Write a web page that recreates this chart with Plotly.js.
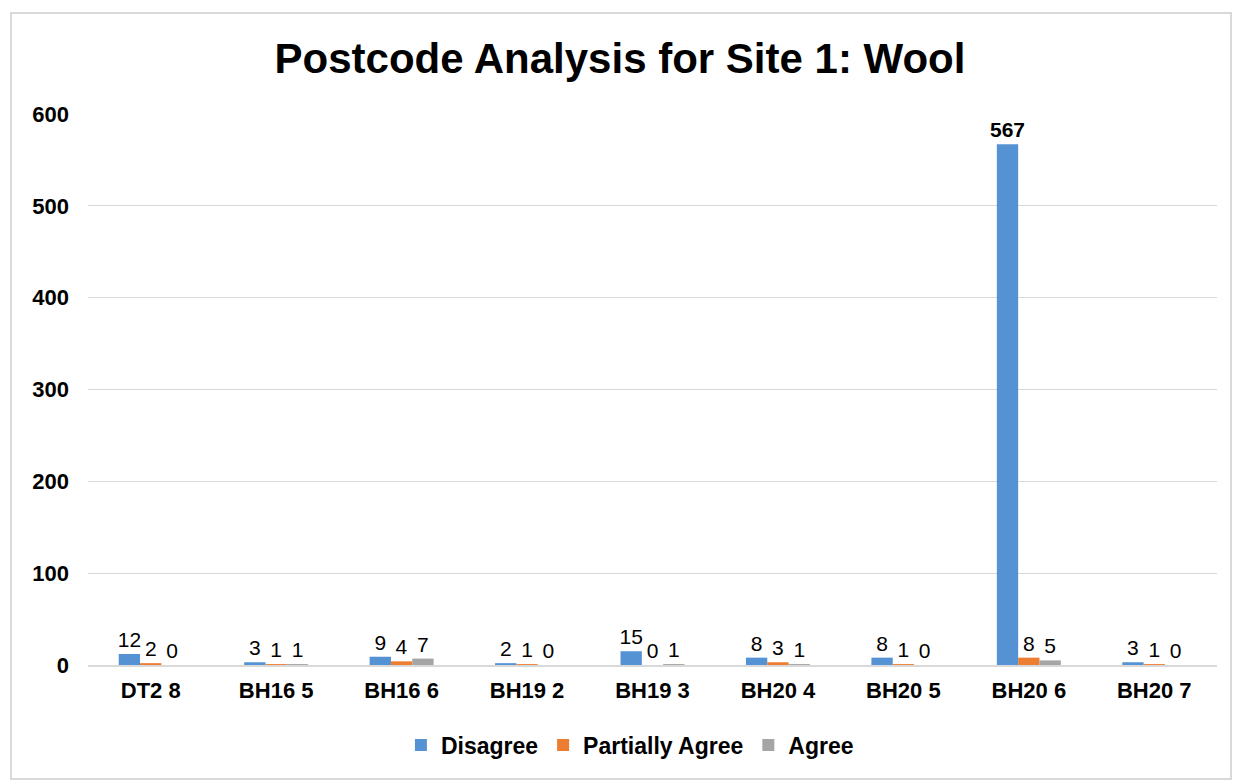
<!DOCTYPE html>
<html>
<head>
<meta charset="utf-8">
<script src="https://cdn.plot.ly/plotly-3.0.1.min.js"></script>
<style>
  html, body { margin: 0; padding: 0; background: #fff; }
  #frame { position: absolute; left: 10px; top: 12px; width: 1218px; height: 764px; border: 2px solid #d9d9d9; }
  #chart { position: absolute; left: 12px; top: 14px; width: 1216px; height: 762px; }
</style>
</head>
<body>
<div id="frame"></div>
<div id="chart"></div>
<script>
const categories = ["DT2 8", "BH16 5", "BH16 6", "BH19 2", "BH19 3", "BH20 4", "BH20 5", "BH20 6", "BH20 7"];
const disagree = [12, 3, 9, 2, 15, 8, 8, 567, 3];
const partiallyAgree = [2, 1, 4, 1, 0, 3, 1, 8, 1];
const agree = [0, 1, 7, 0, 1, 1, 0, 5, 0];
const yTicks = [0, 100, 200, 300, 400, 500, 600];

const font = "Liberation Sans, Arial, sans-serif";
function series(name, vals, color) {
  return {
    type: "bar", name: name, x: categories, y: vals,
    marker: { color: color },
    text: vals.map(v => v >= 100 ? "<b>" + v + "</b>" : String(v)),
    textposition: "outside", constraintext: "none",
    textfont: { family: font, size: 21, color: "#000" },
    cliponaxis: false, hoverinfo: "x+y+name"
  };
}
const data = [
  series("Disagree", disagree, "#5592D3"),
  series("Partially Agree", partiallyAgree, "#ED7D31"),
  series("Agree", agree, "#A5A5A5")
];
const layout = {
  width: 1216, height: 762,
  margin: { l: 76, r: 11, t: 100, b: 110 },
  paper_bgcolor: "#fff", plot_bgcolor: "#fff",
  font: { family: font, color: "#000" },
  title: { text: "<b>Postcode Analysis for Site 1: Wool</b>", font: { family: font, size: 42, color: "#000" }, x: 0.5, xanchor: "center", y: 0.942, yanchor: "middle" },
  barmode: "group", bargap: 0.49, bargroupgap: 0,
  xaxis: {
    type: "category", showgrid: false, zeroline: false,
    showline: true, linecolor: "#d9d9d9", linewidth: 2,
    ticks: "", ticklabelstandoff: 5,
    tickfont: { family: font, size: 22, color: "#000" },
    tickvals: categories, ticktext: categories.map(c => "<b>" + c + "</b>")
  },
  yaxis: {
    range: [0, 600], tickvals: yTicks, ticktext: yTicks.map(v => "<b>" + v + "</b>"),
    showgrid: true, gridcolor: "#d9d9d9", gridwidth: 1,
    zeroline: false, showline: false, ticks: "", ticklen: 0,
    ticklabelstandoff: 18,
    tickfont: { family: font, size: 22, color: "#000" }
  },
  legend: {
    orientation: "h", x: 0.48, xanchor: "center", y: -0.143, yanchor: "middle",
    font: { family: font, size: 23, color: "#000", weight: "bold" },
    itemwidth: 30, traceorder: "normal"
  },
  showlegend: true
};
Plotly.newPlot("chart", data, layout, { displayModeBar: false, staticPlot: true });
</script>
</body>
</html>
